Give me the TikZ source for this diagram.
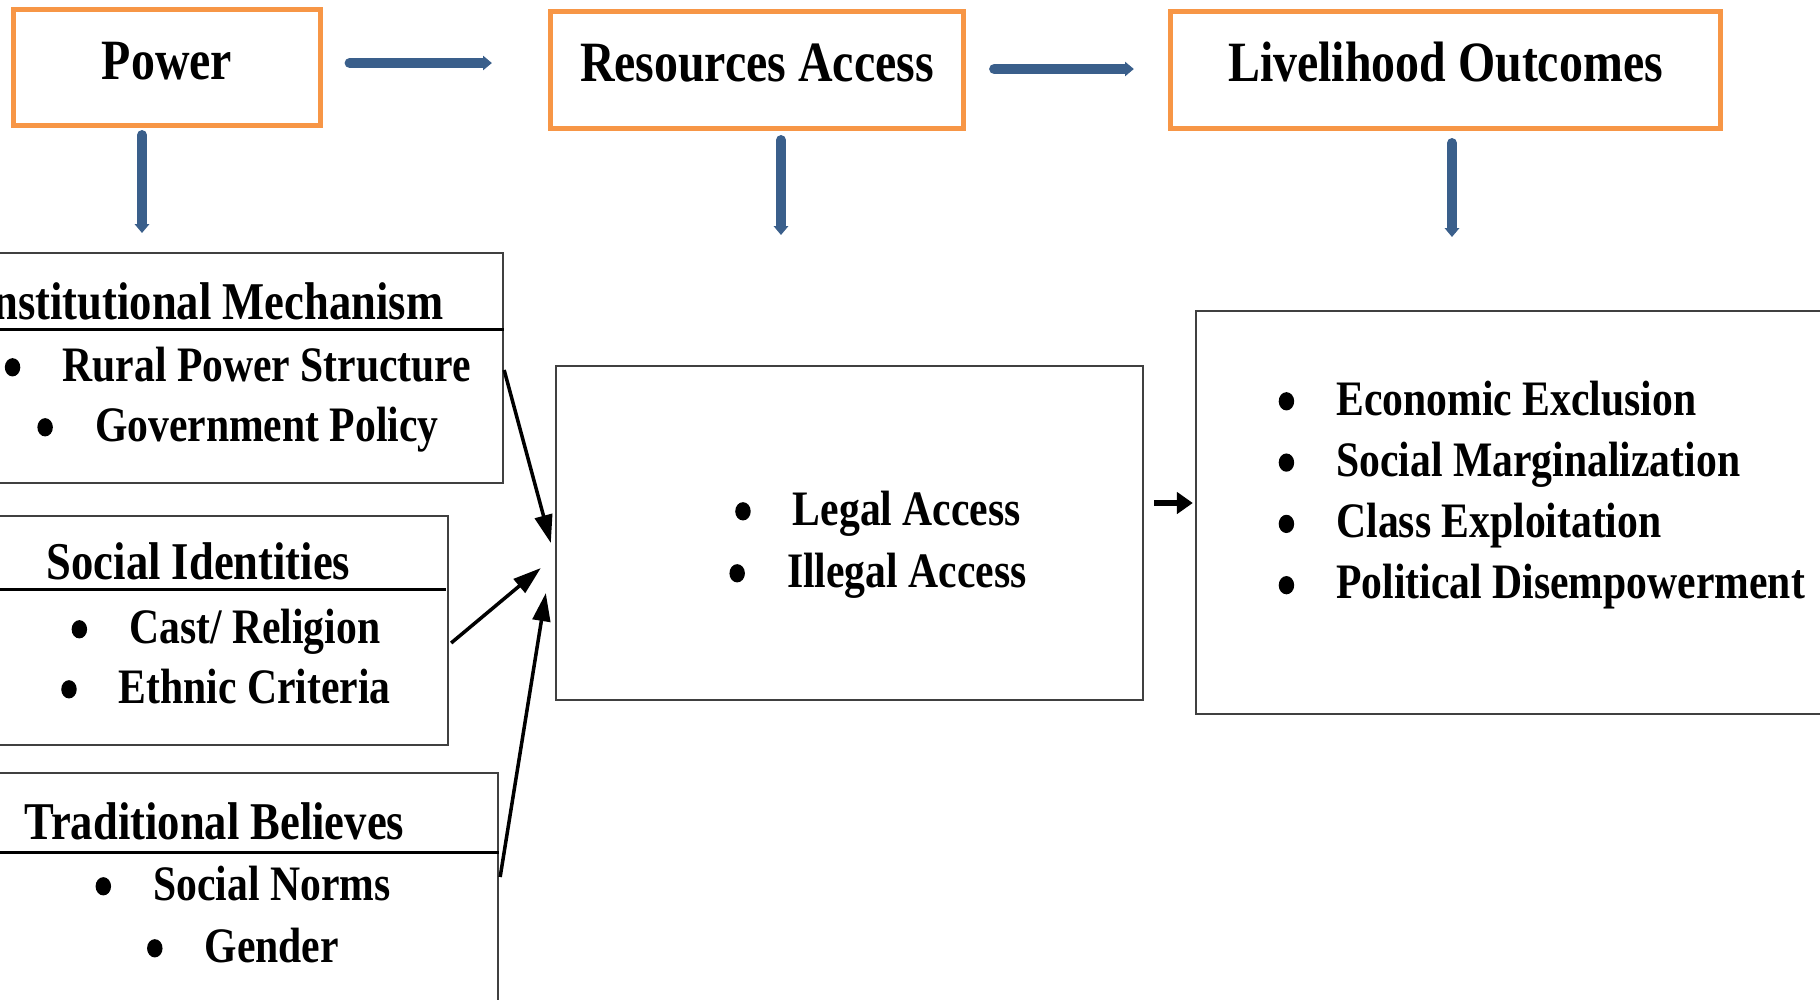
\documentclass[tikz,border=0pt]{standalone}
\usepackage{fontspec}
\setmainfont{Liberation Serif}[FakeStretch=0.84]
\usepackage{tikz}
\usetikzlibrary{positioning,arrows.meta}
\definecolor{boxorange}{HTML}{F79646}
\definecolor{flowblue}{HTML}{3A5F8B}
\definecolor{edgegray}{HTML}{404040}
\tikzset{
topbox/.style={draw=boxorange, line width=1.42pt, inner sep=0pt, font=\bfseries\fontsize{16.2pt}{19pt}\selectfont, text height=11pt, text depth=4.2pt},
subbox/.style={draw=edgegray, line width=0.57pt, inner sep=0pt},
sepline/.style={black, line width=0.85pt},
boxtitle/.style={inner sep=0pt, font=\bfseries\fontsize{15.1pt}{18pt}\selectfont},
bulletline/.style={inner sep=0pt, font=\bfseries\fontsize{14.1pt}{17pt}\selectfont},
flow/.style={flowblue, line width=2.85pt, line cap=round, -{Triangle[length=2.5pt,width=4pt]}},
feed/.style={black, line width=1pt, -{Triangle[length=8pt,width=5pt]}}
}
\newcommand{\bul}{\tikz[baseline=0pt]\fill (0,3.9pt) ellipse (2.2pt and 2.6pt);\hspace{12pt}}

\begin{document}
\begin{tikzpicture}[x=0.01cm, y=-0.01cm]
\useasboundingbox (0,0) rectangle (1820,999);
\clip (0,0) rectangle (1820,999);

% top row
\node[topbox, minimum width=3.06cm, minimum height=1.16cm] (power) at (167,67.5) {Power};
\node[topbox, minimum width=4.13cm, minimum height=1.17cm] (res) at (757,70) {Resources Access};
\node[topbox, minimum width=5.5cm, minimum height=1.17cm] (live) at (1445.5,70) {Livelihood Outcomes};

% boxes below
\node[subbox, minimum width=5.23cm, minimum height=2.3cm] (inst) at (241.5,368) {};
\node[subbox, minimum width=4.68cm, minimum height=2.29cm] (soc) at (214,630.5) {};
\node[subbox, minimum width=5.18cm, minimum height=2.47cm] (trad) at (239,896.5) {};
\node[subbox, minimum width=5.87cm, minimum height=3.34cm] (acc) at (849.5,533) {};
\node[subbox, minimum width=6.44cm, minimum height=4.03cm] (out) at (1518,512.5) {};

\draw[sepline] (inst.west |- 0,329) -- (inst.east |- 0,329);
\draw[sepline] (soc.west |- 0,589) -- ([xshift=-1pt]soc.east |- 0,589);
\draw[sepline] (trad.west |- 0,852) -- (trad.east |- 0,852);

\node[boxtitle, anchor=base east] (insttitle) at (444,319) {Institutional Mechanism};
\node[boxtitle, anchor=base west] (soctitle) at (46,579) {Social Identities};
\node[boxtitle, anchor=base west] (tradtitle) at (24,839) {Traditional Believes};

\foreach \x [count=\i] in {Rural Power Structure, Government Policy}
  \node[bulletline, anchor=base] (inst\i) at (238,321+60*\i) {\bul\x};
\foreach \x [count=\i] in {Cast/ Religion, Ethnic Criteria}
  \node[bulletline, anchor=base] (soc\i) at (226,583+60*\i) {\bul\x};
\foreach \x [count=\i] in {Social Norms, Gender}
  \node[bulletline, anchor=base] (trad\i) at (243,838+62*\i) {\bul\x};
\foreach \x [count=\i] in {Legal Access, Illegal Access}
  \node[bulletline, anchor=base] (acc\i) at (878,463+62*\i) {\bul\x};
\foreach \x [count=\i] in {Economic Exclusion, Social Marginalization, Class Exploitation, Political Disempowerment}
  \node[bulletline, anchor=base west] (out\i) at (1278,353.7+61.3*\i) {\bul\x};

% blue arrows
\coordinate (powerend) at (142,233);
\coordinate (resend) at (781,235);
\coordinate (liveend) at (1452,237);
\draw[flow] ([shift={(27,-4.5)}]power.east) -- ([shift={(-56,-7)}]res.west);
\draw[flow] ([shift={(28,-1)}]res.east) -- ([shift={(-34,-1)}]live.west);
\draw[flow] ([shift={(-25,7)}]power.south) -- (powerend);
\draw[flow] ([shift={(24,9)}]res.south) -- (resend);
\draw[flow] ([shift={(6.5,12)}]live.south) -- (liveend);

% black arrows
\draw[feed] ([shift={(0,2)}]inst.east) -- ([shift={(-4,10)}]acc.west);
\draw[feed] ([shift={(2,12.5)}]soc.east) -- ([shift={(-14,35)}]acc.west);
\draw[feed] ([shift={(1,-19.5)}]trad.east) -- ([shift={(-9,60)}]acc.west);
\draw[feed, line width=1.6pt, -{Triangle[length=4.5pt,width=6pt]}] ([shift={(10,-30)}]acc.east) -- ([shift={(-2,-9.5)}]out.west);
\end{tikzpicture}
\end{document}
